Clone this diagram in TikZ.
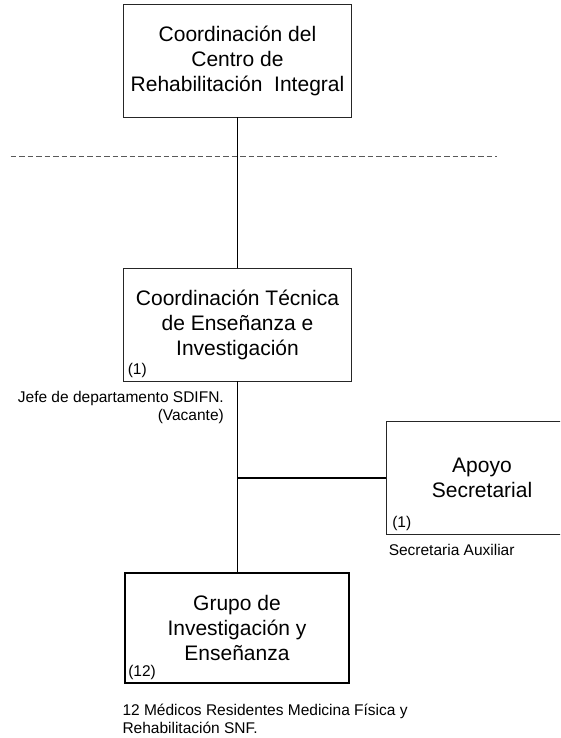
\documentclass[tikz,border=0pt]{standalone}
\usepackage{fontspec}
\setmainfont{Liberation Sans}
\usetikzlibrary{positioning}
\tikzset{
  caja/.style={draw=black!85,line width=0.9pt,minimum width=228pt,minimum height=113pt,
    align=center,inner sep=0pt,font=\fontsize{21}{25}\selectfont},
  nota/.style={inner sep=0pt,font=\fontsize{15.5}{17.5}\selectfont}
}
\begin{document}
\begin{tikzpicture}[x=1pt,y=1pt]
  \useasboundingbox (0,0) rectangle (560,738);
  \clip (0,0) rectangle (560,738);
  \coordinate (corteA) at (10.5,582);
  \coordinate (corteB) at (497,582);
  \draw[black!65,line width=0.8pt,dash pattern=on 5.5pt off 3pt] (corteA) -- (corteB);

  \node[caja] (crie) at (237.5,677.5) {Coordinación del\\Centro de\\Rehabilitación\ \ Integral};
  \node[caja] (cte) at (237.5,413.5) {Coordinación Técnica\\de Enseñanza e\\Investigación};
  \node[caja,minimum width=192pt] (apoyo) at (482,260.25) {Apoyo\\Secretarial};
  \node[caja,draw=black,line width=2pt,minimum width=223.8pt,minimum height=110pt] (grupo) at (237,110) {Grupo de\\Investigación y\\Enseñanza};

  \draw[line width=0.9pt] (crie) -- (cte);
  \draw[line width=1.8pt] (cte.south) -- (cte.south |- grupo.north);
  \draw[line width=1.8pt] (cte.south |- apoyo.west) -- (apoyo.west);

  \node[nota,anchor=south west] at ([shift={(4.5,4)}]cte.south west) {(1)};
  \node[nota,anchor=south west] at ([shift={(6.5,4)}]apoyo.south west) {(1)};
  \node[nota,anchor=south west] at ([shift={(4,4)}]grupo.south west) {(12)};
  \node[nota,anchor=north east,align=right] at ([shift={(-13.5,-10)}]cte.south) {Jefe de departamento SDIFN.\\(Vacante)};
  \node[nota,anchor=north west] at ([shift={(3,-9.7)}]apoyo.south west) {Secretaria Auxiliar};
  \node[nota,anchor=north west,align=left] at ([shift={(-1.8,-20)}]grupo.south west) {12 Médicos Residentes Medicina Física y\\Rehabilitación SNF.};
\end{tikzpicture}
\end{document}
